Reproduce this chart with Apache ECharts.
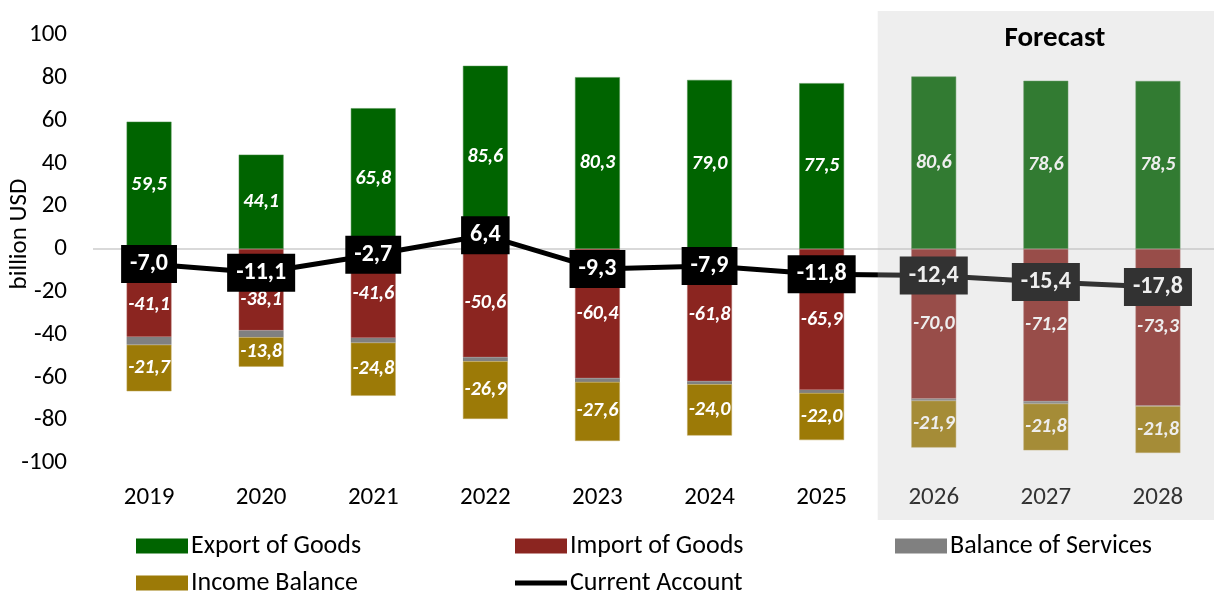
<!DOCTYPE html>
<html>
<head>
<meta charset="utf-8">
<script src="https://cdn.jsdelivr.net/npm/echarts@6/dist/echarts.min.js"></script>
<style>
html,body{margin:0;padding:0;background:#fff;}
#chart{width:1214px;height:591px;}
</style>
</head>
<body>
<div id="chart"></div>
<script>
const years = ['2019','2020','2021','2022','2023','2024','2025','2026','2027','2028'];
const exportsGoods = [59.5, 44.1, 65.8, 85.6, 80.3, 79.0, 77.5, 80.6, 78.6, 78.5];
const importsGoods = [-41.1, -38.1, -41.6, -50.6, -60.4, -61.8, -65.9, -70.0, -71.2, -73.3];
const servicesBal = [-3.7, -3.1, -2.2, -1.9, -1.7, -1.4, -1.4, -0.9, -1.1, -0.2];
const incomeBal = [-21.7, -13.8, -24.8, -26.9, -27.6, -24.0, -22.0, -21.9, -21.8, -21.8];
const currentAcc = [-7.0, -11.1, -2.7, 6.4, -9.3, -7.9, -11.8, -12.4, -15.4, -17.8];
const yTicks = [-100, -80, -60, -40, -20, 0, 20, 40, 60, 80, 100];
const forecastStart = '2026';

const FONT = 'Carlito, Lato, "Liberation Sans", sans-serif';
const fmt = v => v.toFixed(1).replace('.', ',');

const barLabel = {
  show: true, position: 'inside', color: '#fff', fontStyle: 'italic', fontWeight: 'bold',
  fontSize: 20, fontFamily: FONT,
  formatter: p => fmt(p.value)
};

// nudge import labels that collide with current-account boxes
const importData = importsGoods.map((v, i) => {
  if (i === 0) return { value: v, label: { offset: [0, 12] } };
  if (i === 1) return { value: v, label: { offset: [0, 10] } };
  return v;
});

const chart = echarts.init(document.getElementById('chart'), null, { renderer: 'canvas' });

const splitColors = yTicks.map(t => t === 0 ? '#D9D9D9' : 'rgba(0,0,0,0)');

const legendBase = {
  itemWidth: 52, itemHeight: 15, itemGap: 0, padding: 0,
  itemStyle: { borderWidth: 0 },
  textStyle: { fontSize: 26, color: '#000', fontFamily: FONT, padding: [0, 0, 0, -2] },
  selectedMode: false
};

const option = {
  animation: false,
  backgroundColor: '#fff',
  grid: { left: 93, width: 1131, top: 35, bottom: 128, containLabel: false },
  xAxis: {
    type: 'category', data: years,
    axisLine: { show: false }, axisTick: { show: false },
    axisLabel: { fontSize: 25, color: '#000', fontFamily: FONT, margin: 22 }
  },
  yAxis: {
    type: 'value', min: -100, max: 100, interval: 20,
    axisLine: { show: false }, axisTick: { show: false },
    axisLabel: { fontSize: 25, color: '#000', fontFamily: FONT, margin: 26 },
    splitLine: { show: true, lineStyle: { color: splitColors, width: 2 } }
  },
  legend: [
    Object.assign({}, legendBase, { left: 136, top: 533, data: [{ name: 'Export of Goods', icon: 'rect' }] }),
    Object.assign({}, legendBase, { left: 515, top: 533, data: [{ name: 'Import of Goods', icon: 'rect' }] }),
    Object.assign({}, legendBase, { left: 895, top: 533, data: [{ name: 'Balance of Services', icon: 'rect' }] }),
    Object.assign({}, legendBase, { left: 136, top: 570, data: [{ name: 'Income Balance', icon: 'rect' }] }),
    Object.assign({}, legendBase, { left: 515, top: 570, data: [{ name: 'Current Account', icon: 'path://M0,0 L52,0 L52,5 L0,5 Z' }] })
  ],
  series: [
    {
      name: 'Export of Goods', type: 'bar', stack: 'ca', data: exportsGoods, barWidth: '40%',
      itemStyle: { color: '#006400', borderColor: '#4d8f4d', borderWidth: 0.5 }, label: barLabel
    },
    {
      name: 'Import of Goods', type: 'bar', stack: 'ca', data: importData, barWidth: '40%',
      itemStyle: { color: '#8B2520', borderColor: '#b06a66', borderWidth: 0.5 }, label: barLabel
    },
    {
      name: 'Balance of Services', type: 'bar', stack: 'ca', data: servicesBal, barWidth: '40%',
      itemStyle: { color: '#808080' }, label: { show: false }
    },
    {
      name: 'Income Balance', type: 'bar', stack: 'ca', data: incomeBal, barWidth: '40%',
      itemStyle: { color: '#9C7A07', borderColor: '#c0a860', borderWidth: 0.5 }, label: barLabel
    },
    {
      name: 'Current Account', type: 'line', data: currentAcc, z: 5,
      symbol: 'circle', symbolSize: 1, showSymbol: true,
      lineStyle: { color: '#000', width: 5 }, itemStyle: { color: '#000' },
      label: {
        show: true, position: 'inside', color: '#fff', fontSize: 24, fontWeight: 'bold', fontFamily: FONT,
        backgroundColor: '#000', padding: [8, 9, 6, 9],
        formatter: p => fmt(p.value)
      }
    }
  ]
};

chart.setOption(option);

// Forecast overlay computed from the category axis
const xStart = chart.convertToPixel({ xAxisIndex: 0 }, forecastStart);
const xNext = chart.convertToPixel({ xAxisIndex: 0 }, years[years.indexOf(forecastStart) + 1]);
const band = xNext - xStart;
const left = xStart - band / 2;
const right = 1214;
chart.setOption({
  graphic: [
    {
      type: 'rect', z: 100, silent: true,
      shape: { x: left, y: 11, width: right - left + 20, height: 509 },
      style: { fill: 'rgba(190,190,190,0.263)' }
    },
    {
      type: 'text', z: 101, silent: true,
      x: left + (band * 3) / 2 + 9, y: 39,
      style: { text: 'Forecast', fill: '#000', font: 'bold 29px ' + FONT, align: 'center', verticalAlign: 'middle' }
    },
    {
      type: 'text', z: 101, silent: true, x: 20, y: 234, rotation: Math.PI / 2,
      style: { text: 'billion USD', fill: '#000', font: '25px ' + FONT, align: 'center', verticalAlign: 'middle' }
    }
  ]
});
</script>
</body>
</html>
